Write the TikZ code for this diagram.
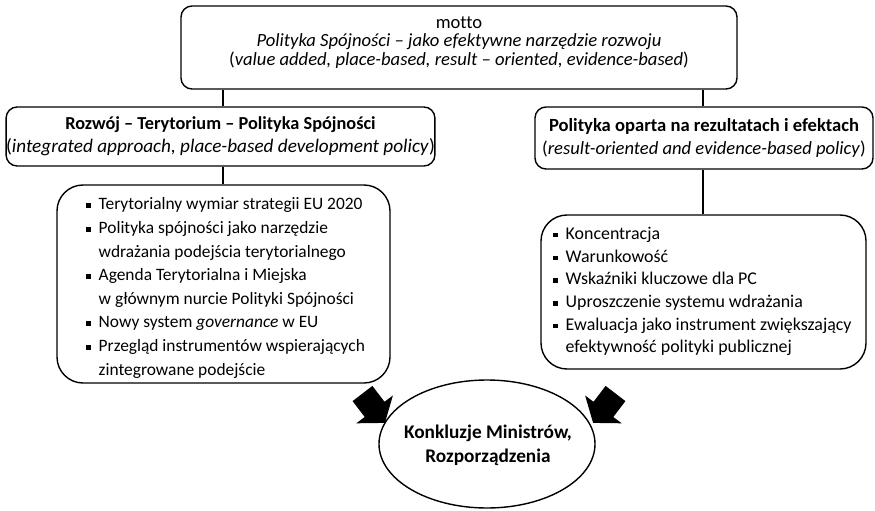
\documentclass[tikz,border=0pt]{standalone}
\usepackage{fontspec}
\usetikzlibrary{shapes.geometric}
\setmainfont{Carlito}[Ligatures={TeX,NoCommon}]
\newcommand{\bq}{\makebox[12.5pt][l]{\rule[1.9pt]{4.6pt}{4.6pt}}}
\newcommand{\bi}{\hspace*{12.5pt}}
\newcommand{\fs}[2]{\fontsize{#1}{#2}\selectfont}
\begin{document}
\begin{tikzpicture}[x=1pt,y=-1pt,
  box/.style={draw, line width=1.4pt, rounded corners=11pt, inner sep=0pt},
  bigbox/.style={draw, line width=1.4pt, rounded corners=26pt, inner sep=0pt},
  conn/.style={line width=2.6pt},
  txt/.style={inner sep=0pt, align=center},
  arrowfill/.style={fill=black}]
\useasboundingbox (0,0) rectangle (875,511);
\fill[white] (0,0) rectangle (875,511);

% boxes
\node[box, minimum width=556pt, minimum height=83pt] (top) at (459,47.5) {};
\node[txt, font=\fs{18.6}{18.6}] (topT) at (459,42.5)
  {motto\\ \textit{Polityka Spójności – jako efektywne narzędzie rozwoju}\\
   (\textit{value added, place-based, result – oriented, evidence-based})};

\node[box, minimum width=427pt, minimum height=59pt, align=center,
  font=\fs{18.3}{23}] (midL) at (220.5,136.5)
  {\textbf{Rozwój – Terytorium – Polityka Spójności}\\
   {\fs{19.2}{23}(\textit{integrated approach, place-based development policy})}};

\node[box, minimum width=338pt, minimum height=62pt, align=center,
  font=\fs{18.6}{23}] (midR) at (704,138)
  {\textbf{Polityka oparta na rezultatach i efektach}\\
   (\textit{result-oriented and evidence-based policy})};

\node[bigbox, minimum width=333pt, minimum height=198pt] (botL) at (223.5,284) {};
\node[txt, align=left, anchor=west, font=\fs{17.4}{23.6}] (botLT) at (86,288)
  {\bq Terytorialny wymiar strategii EU 2020\\
   \bq Polityka spójności jako narzędzie\\
   \bi wdrażania podejścia terytorialnego\\
   \bq Agenda Terytorialna i Miejska\\
   \bi w głównym nurcie Polityki Spójności\\
   \bq Nowy system \textit{governance} w EU\\
   \bq Przegląd instrumentów wspierających\\
   \bi zintegrowane podejście};

\node[bigbox, minimum width=325pt, minimum height=154pt] (botR) at (703.5,292) {};
\node[txt, align=left, anchor=west, font=\fs{17.9}{22.7}] (botRT) at (553,291.5)
  {\bq Koncentracja\\
   \bq Warunkowość\\
   \bq Wskaźniki kluczowe dla PC\\
   \bq Uproszczenie systemu wdrażania\\
   \bq Ewaluacja jako instrument zwiększający\\
   \bi efektywność polityki publicznej};

\node[draw, line width=1.4pt, ellipse, minimum width=216pt, minimum height=128pt,
  inner sep=0pt] (ellB) at (487,444) {};
\node[txt, font=\bfseries\fs{19.3}{24}] (ell) at (488,445)
  {Konkluzje Ministrów,\\ Rozporządzenia};

% connectors
\coordinate (xl) at (223,0);
\coordinate (xr) at (703,0);
\draw[conn] (xl |- top.south) -- (xl |- midL.north);
\draw[conn] (xr |- top.south) -- (xr |- midR.north);
\draw[conn] (xl |- midL.south) -- (xl |- botL.north);
\draw[conn] (xr |- midR.south) -- (xr |- botR.north);

% block arrows
\fill[arrowfill] (352.6,401.1) -- (372.4,385.9) -- (384.5,401.8) -- (392.9,395.5)
  -- (384.9,422.9) -- (356.3,423.3) -- (364.7,417.0) -- cycle;
\fill[arrowfill] (625.4,401.1) -- (605.6,385.9) -- (593.5,401.8) -- (585.1,395.5)
  -- (593.1,422.9) -- (621.7,423.3) -- (613.3,417.0) -- cycle;
\end{tikzpicture}
\end{document}
